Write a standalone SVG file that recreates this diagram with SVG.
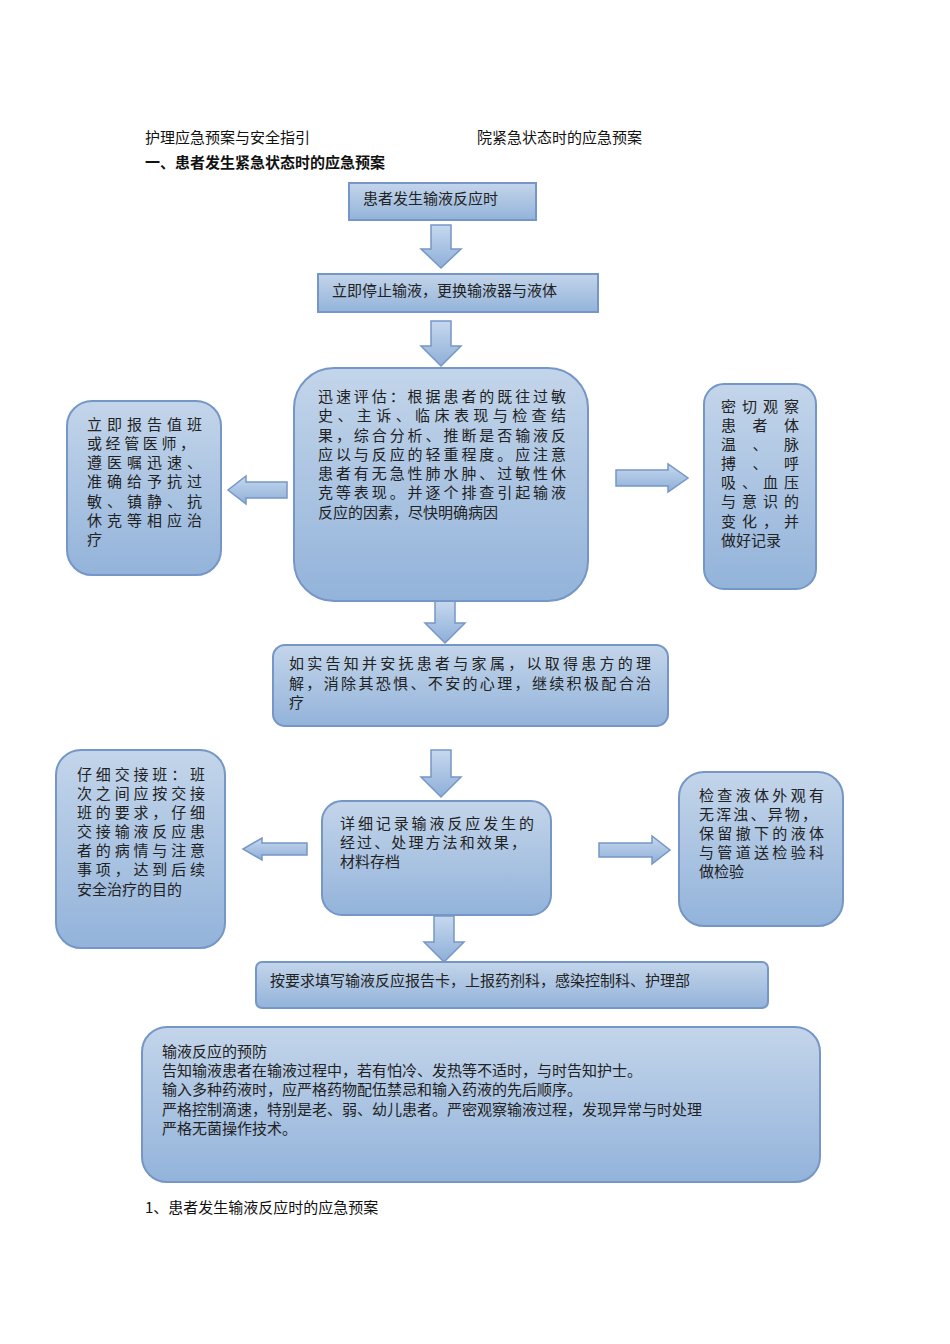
<svg xmlns="http://www.w3.org/2000/svg" width="950" height="1344" viewBox="0 0 950 1344">
<defs>
<linearGradient id="g" x1="0" y1="0" x2="0" y2="1"><stop offset="0" stop-color="#c3d5ea"/><stop offset="1" stop-color="#93b3da"/></linearGradient>
<linearGradient id="ga" x1="0" y1="0" x2="0" y2="1"><stop offset="0" stop-color="#c6d8ee"/><stop offset="1" stop-color="#8eafd8"/></linearGradient>
<style>
.b{fill:url(#g);stroke:#7596c6;stroke-width:2}
.a{fill:url(#ga);stroke:#7596c6;stroke-width:1.5}
.t{font-family:"Noto Sans CJK SC",sans-serif;font-size:15px;fill:#222}
.h{font-family:"Noto Sans CJK SC",sans-serif;font-size:15px;fill:#111}
</style>
</defs>
<rect width="950" height="1344" fill="#fff"/>
<text class="h" x="145" y="143">护理应急预案与安全指引</text>
<text class="h" x="477" y="143">院紧急状态时的应急预案</text>
<text class="h" x="145" y="168" font-weight="bold">一、患者发生紧急状态时的应急预案</text>
<text class="h" x="145" y="1213">1、患者发生输液反应时的应急预案</text>
<g id="connectors">
<polygon class="a" points="431,225 451,225 451,249 461,249 441,268 421,249 431,249"/>
<polygon class="a" points="431,321 451,321 451,346 461,346 441,366 421,346 431,346"/>
<polygon class="a" points="287,482 287,498 246,498 246,504 228,490 246,476 246,482"/>
<polygon class="a" points="616,470 616,486 668,486 668,492 688,478 668,464 668,470"/>
<polygon class="a" points="435,601 455,601 455,623 465,623 445,643 425,623 435,623"/>
<polygon class="a" points="431,750 451,750 451,777 461,777 441,797 421,777 431,777"/>
<polygon class="a" points="307,843 307,855 262,855 262,860 243,849 262,838 262,843"/>
<polygon class="a" points="599,843 599,857 652,857 652,864 670,850 652,836 652,843"/>
<polygon class="a" points="434,916 454,916 454,942 464,942 444,962 424,942 434,942"/>
</g>
<g id="n1"><rect class="b" x="349" y="183" width="187" height="37"/><text class="t" x="363" y="204">患者发生输液反应时</text></g>
<g id="n2"><rect class="b" x="318" y="274" width="280" height="38"/><text class="t" x="332" y="296">立即停止输液，更换输液器与液体</text></g>
<g id="n3"><rect class="b" x="294" y="368" width="294" height="233" rx="40"/>
<text class="t" x="318" y="402" textLength="248">迅速评估：根据患者的既往过敏</text>
<text class="t" x="318" y="421" textLength="248">史、主诉、临床表现与检查结</text>
<text class="t" x="318" y="441" textLength="248">果，综合分析、推断是否输液反</text>
<text class="t" x="318" y="460" textLength="248">应以与反应的轻重程度。应注意</text>
<text class="t" x="318" y="479" textLength="248">患者有无急性肺水肿、过敏性休</text>
<text class="t" x="318" y="498" textLength="248">克等表现。并逐个排查引起输液</text>
<text class="t" x="318" y="518">反应的因素，尽快明确病因</text></g>
<g id="n4"><rect class="b" x="67" y="401" width="154" height="174" rx="25"/>
<text class="t" x="87" y="430" textLength="115">立即报告值班</text>
<text class="t" x="87" y="449" textLength="108">或经管医师，</text>
<text class="t" x="87" y="468" textLength="115">遵医嘱迅速、</text>
<text class="t" x="87" y="487" textLength="115">准确给予抗过</text>
<text class="t" x="87" y="507" textLength="115">敏、镇静、抗</text>
<text class="t" x="87" y="526" textLength="115">休克等相应治</text>
<text class="t" x="87" y="545">疗</text></g>
<g id="n5"><rect class="b" x="704" y="384" width="112" height="205" rx="20"/>
<text class="t" x="721" y="412" textLength="78">密切观察</text>
<text class="t" x="721" y="431" textLength="78">患者体</text>
<text class="t" x="721" y="450" textLength="78">温、脉</text>
<text class="t" x="721" y="469" textLength="78">搏、呼</text>
<text class="t" x="721" y="488" textLength="78">吸、血压</text>
<text class="t" x="721" y="507" textLength="78">与意识的</text>
<text class="t" x="721" y="527" textLength="78">变化，并</text>
<text class="t" x="721" y="546">做好记录</text></g>
<g id="n6"><rect class="b" x="273" y="645" width="395" height="81" rx="12"/>
<text class="t" x="289" y="669" textLength="362">如实告知并安抚患者与家属，以取得患方的理</text>
<text class="t" x="289" y="689" textLength="362">解，消除其恐惧、不安的心理，继续积极配合治</text>
<text class="t" x="289" y="708">疗</text></g>
<g id="n7"><rect class="b" x="322" y="801" width="229" height="114" rx="20"/>
<text class="t" x="340" y="829" textLength="194">详细记录输液反应发生的</text>
<text class="t" x="340" y="848" textLength="186">经过、处理方法和效果，</text>
<text class="t" x="340" y="867">材料存档</text></g>
<g id="n8"><rect class="b" x="56" y="750" width="169" height="198" rx="25"/>
<text class="t" x="77" y="780" textLength="128">仔细交接班：班</text>
<text class="t" x="77" y="799" textLength="128">次之间应按交接</text>
<text class="t" x="77" y="818" textLength="128">班的要求，仔细</text>
<text class="t" x="77" y="837" textLength="128">交接输液反应患</text>
<text class="t" x="77" y="856" textLength="128">者的病情与注意</text>
<text class="t" x="77" y="875" textLength="128">事项，达到后续</text>
<text class="t" x="77" y="895">安全治疗的目的</text></g>
<g id="n9"><rect class="b" x="679" y="772" width="164" height="154" rx="25"/>
<text class="t" x="699" y="801" textLength="125">检查液体外观有</text>
<text class="t" x="699" y="820" textLength="118">无浑浊、异物，</text>
<text class="t" x="699" y="839" textLength="125">保留撤下的液体</text>
<text class="t" x="699" y="858" textLength="125">与管道送检验科</text>
<text class="t" x="699" y="877">做检验</text></g>
<g id="n10"><rect class="b" x="256" y="962" width="512" height="46" rx="6"/>
<text class="t" x="270" y="986">按要求填写输液反应报告卡，上报药剂科，感染控制科、护理部</text></g>
<g id="n11"><rect class="b" x="142" y="1027" width="678" height="155" rx="25"/>
<text class="t" x="162" y="1057">输液反应的预防</text>
<text class="t" x="162" y="1076">告知输液患者在输液过程中，若有怕冷、发热等不适时，与时告知护士。</text>
<text class="t" x="162" y="1095">输入多种药液时，应严格药物配伍禁忌和输入药液的先后顺序。</text>
<text class="t" x="162" y="1115">严格控制滴速，特别是老、弱、幼儿患者。严密观察输液过程，发现异常与时处理</text>
<text class="t" x="162" y="1134">严格无菌操作技术。</text></g>
</svg>
